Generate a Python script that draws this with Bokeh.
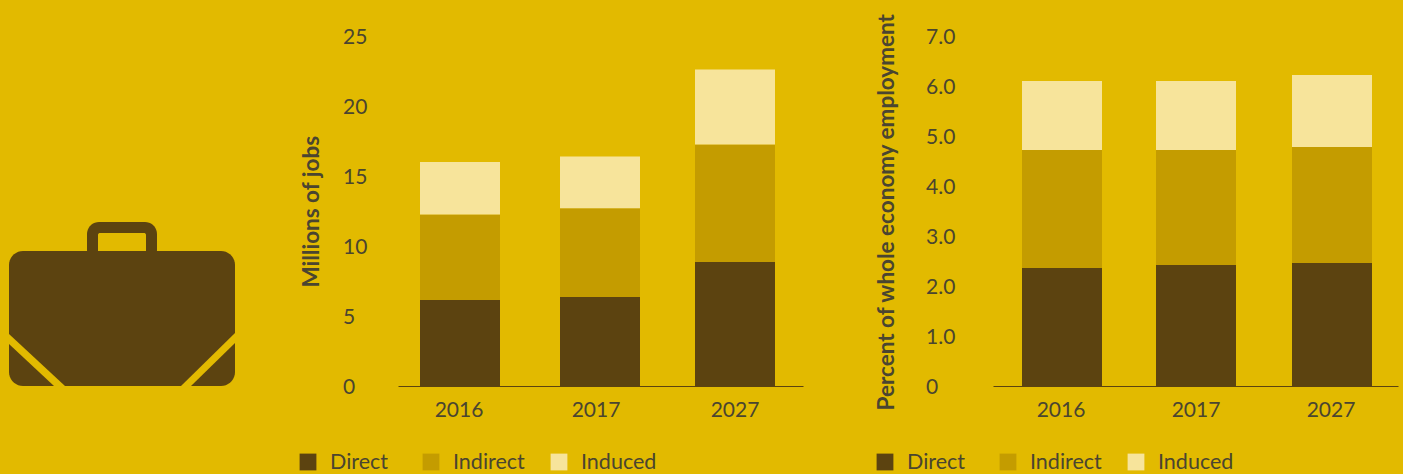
from bokeh.core.properties import value
from bokeh.embed import file_html
from bokeh.layouts import row
from bokeh.models import ColumnDataSource, FixedTicker, Legend, LegendItem, Range1d
from bokeh.plotting import figure
from bokeh.resources import INLINE
import numpy as np

years = ["2016", "2017", "2027"]
series = ["Direct", "Indirect", "Induced"]

jobs_direct = [6.15, 6.35, 8.85]
jobs_indirect = [6.1, 6.35, 8.4]
jobs_induced = [3.75, 3.7, 5.35]
jobs_ticks = [0, 5, 10, 15, 20, 25]
jobs_tick_labels = ["0", "5", "10", "15", "20", "25"]

share_direct = [2.36, 2.42, 2.46]
share_indirect = [2.36, 2.30, 2.32]
share_induced = [1.38, 1.38, 1.44]
share_ticks = [0, 1, 2, 3, 4, 5, 6, 7]
share_tick_labels = ["0", "1.0", "2.0", "3.0", "4.0", "5.0", "6.0", "7.0"]

BG = "#E2BA00"
DARK = "#5C4310"
MID = "#C49C00"
LIGHT = "#F7E49B"
TEXT = "#4A4530"
FONT = "Lato"
PAGE_H = 474
BASELINE_PX = 385.5
PLOT_TOP_PX = 35.5
PX_SHIFT = 0.5


def rounded_outline(left, top, right, bottom, radius):
    """Closed outline of a rounded rectangle in y-down coordinates."""
    arc = np.linspace(0, np.pi / 2, 10)
    xs, ys = [], []
    corners = [
        (right - radius, top + radius, np.pi * 1.5),
        (right - radius, bottom - radius, 0.0),
        (left + radius, bottom - radius, np.pi / 2),
        (left + radius, top + radius, np.pi),
    ]
    for cx, cy, start in corners:
        xs.extend(cx + radius * np.cos(start + arc))
        ys.extend(cy + radius * np.sin(start + arc))
    return xs, ys


def briefcase():
    p = figure(width=260, height=PAGE_H, x_range=Range1d(PX_SHIFT, 260 + PX_SHIFT),
               y_range=Range1d(PAGE_H + PX_SHIFT, PX_SHIFT),
               output_backend="svg", toolbar_location=None, min_border=0,
               background_fill_color=None, border_fill_color=None, outline_line_color=None,
               styles={"background-color": BG})
    p.xaxis.visible = False
    p.yaxis.visible = False
    p.grid.visible = False
    # handle, its opening, then the case with its two diagonal straps
    p.patch(*rounded_outline(87, 222, 157, 262, 12), fill_color=DARK, line_color=None)
    p.patch(*rounded_outline(98, 233, 146, 262, 2), fill_color=BG, line_color=None)
    p.patch(*rounded_outline(9, 251, 235, 386, 14), fill_color=DARK, line_color=None)
    p.patch([9, 9, 54, 65], [334, 344, 386, 386], fill_color=BG, line_color=None)
    p.patch([235, 235, 191, 181], [333, 343, 386, 386], fill_color=BG, line_color=None)
    return p


def stacked_chart(width, axis_x, axis_end, title, ymax, ticks, tick_labels, bar_x, tick_x, values,
                  label_x, title_standoff, legend_x):
    # the plot area fills the whole figure so that the legends can sit under the axis
    per_px = ymax / (BASELINE_PX - PLOT_TOP_PX)
    y_range = Range1d(-(PAGE_H - BASELINE_PX) * per_px, BASELINE_PX * per_px)
    source = ColumnDataSource(dict(x=bar_x, Direct=values[0], Indirect=values[1], Induced=values[2]))
    p = figure(width=width, height=PAGE_H, x_range=Range1d(PX_SHIFT, width + PX_SHIFT), y_range=y_range,
               output_backend="svg", toolbar_location=None, min_border=0,
               background_fill_color=None, border_fill_color=None, outline_line_color=None,
               styles={"background-color": BG})
    renderers = p.vbar_stack(series, x="x", width=80, source=source,
                             color=[DARK, MID, LIGHT], line_color=None)
    p.grid.visible = False

    p.yaxis.fixed_location = axis_x
    p.yaxis.bounds = (0, ymax)
    p.yaxis.ticker = FixedTicker(ticks=[])
    p.yaxis.axis_line_color = None
    p.yaxis.major_tick_line_color = None
    p.yaxis.minor_tick_line_color = None
    p.yaxis.major_label_standoff = 0
    p.yaxis.axis_label = title
    p.yaxis.axis_label_standoff = title_standoff
    p.yaxis.axis_label_text_font = FONT
    p.yaxis.axis_label_text_font_style = "bold"
    p.yaxis.axis_label_text_font_size = "22.5px"
    p.yaxis.axis_label_text_color = TEXT

    # value labels share a left edge, which an axis does not offer
    p.text(x=[label_x] * len(ticks), y=ticks, text=tick_labels, text_align="left",
           text_baseline="middle", text_font=value(FONT), text_font_size="21px", text_color=TEXT)

    p.xaxis.fixed_location = 0
    p.xaxis.bounds = (axis_x, axis_end)
    p.xaxis.ticker = FixedTicker(ticks=tick_x)
    p.xaxis.major_label_overrides = dict(zip(tick_x, years))
    p.xaxis.axis_line_color = DARK
    p.xaxis.axis_line_width = 1
    p.xaxis.major_tick_line_color = None
    p.xaxis.minor_tick_line_color = None
    p.xaxis.major_label_standoff = 10
    p.xaxis.major_label_text_font = FONT
    p.xaxis.major_label_text_font_size = "21px"
    p.xaxis.major_label_text_color = TEXT

    # one legend per series, since the gaps between entries are not even
    for name, renderer, x in zip(series, renderers, legend_x):
        legend = Legend(items=[LegendItem(label=name, renderers=[renderer])],
                        location=(x, 0), orientation="horizontal", padding=0, margin=0,
                        glyph_width=21, glyph_height=21, label_standoff=12,
                        background_fill_alpha=0, border_line_color=None,
                        label_text_font=FONT, label_text_font_size="21.5px", label_text_color=TEXT)
        p.add_layout(legend)
    return p


jobs = stacked_chart(600, 138, 543, "Millions of jobs", 25, jobs_ticks, jobs_tick_labels,
                     [200, 340, 475], [199, 336, 475],
                     [jobs_direct, jobs_indirect, jobs_induced],
                     83, 75, [37, 160, 288])
share = stacked_chart(543, 133, 538, "Percent of whole economy employment", 7, share_ticks, share_tick_labels,
                      [202, 336, 472], [201, 336, 471],
                      [share_direct, share_indirect, share_induced],
                      66, 95, [14, 137, 265])

layout = row(briefcase(), jobs, share, spacing=0, styles={"background-color": BG})
open("out.html", "w").write(file_html(layout, INLINE))
